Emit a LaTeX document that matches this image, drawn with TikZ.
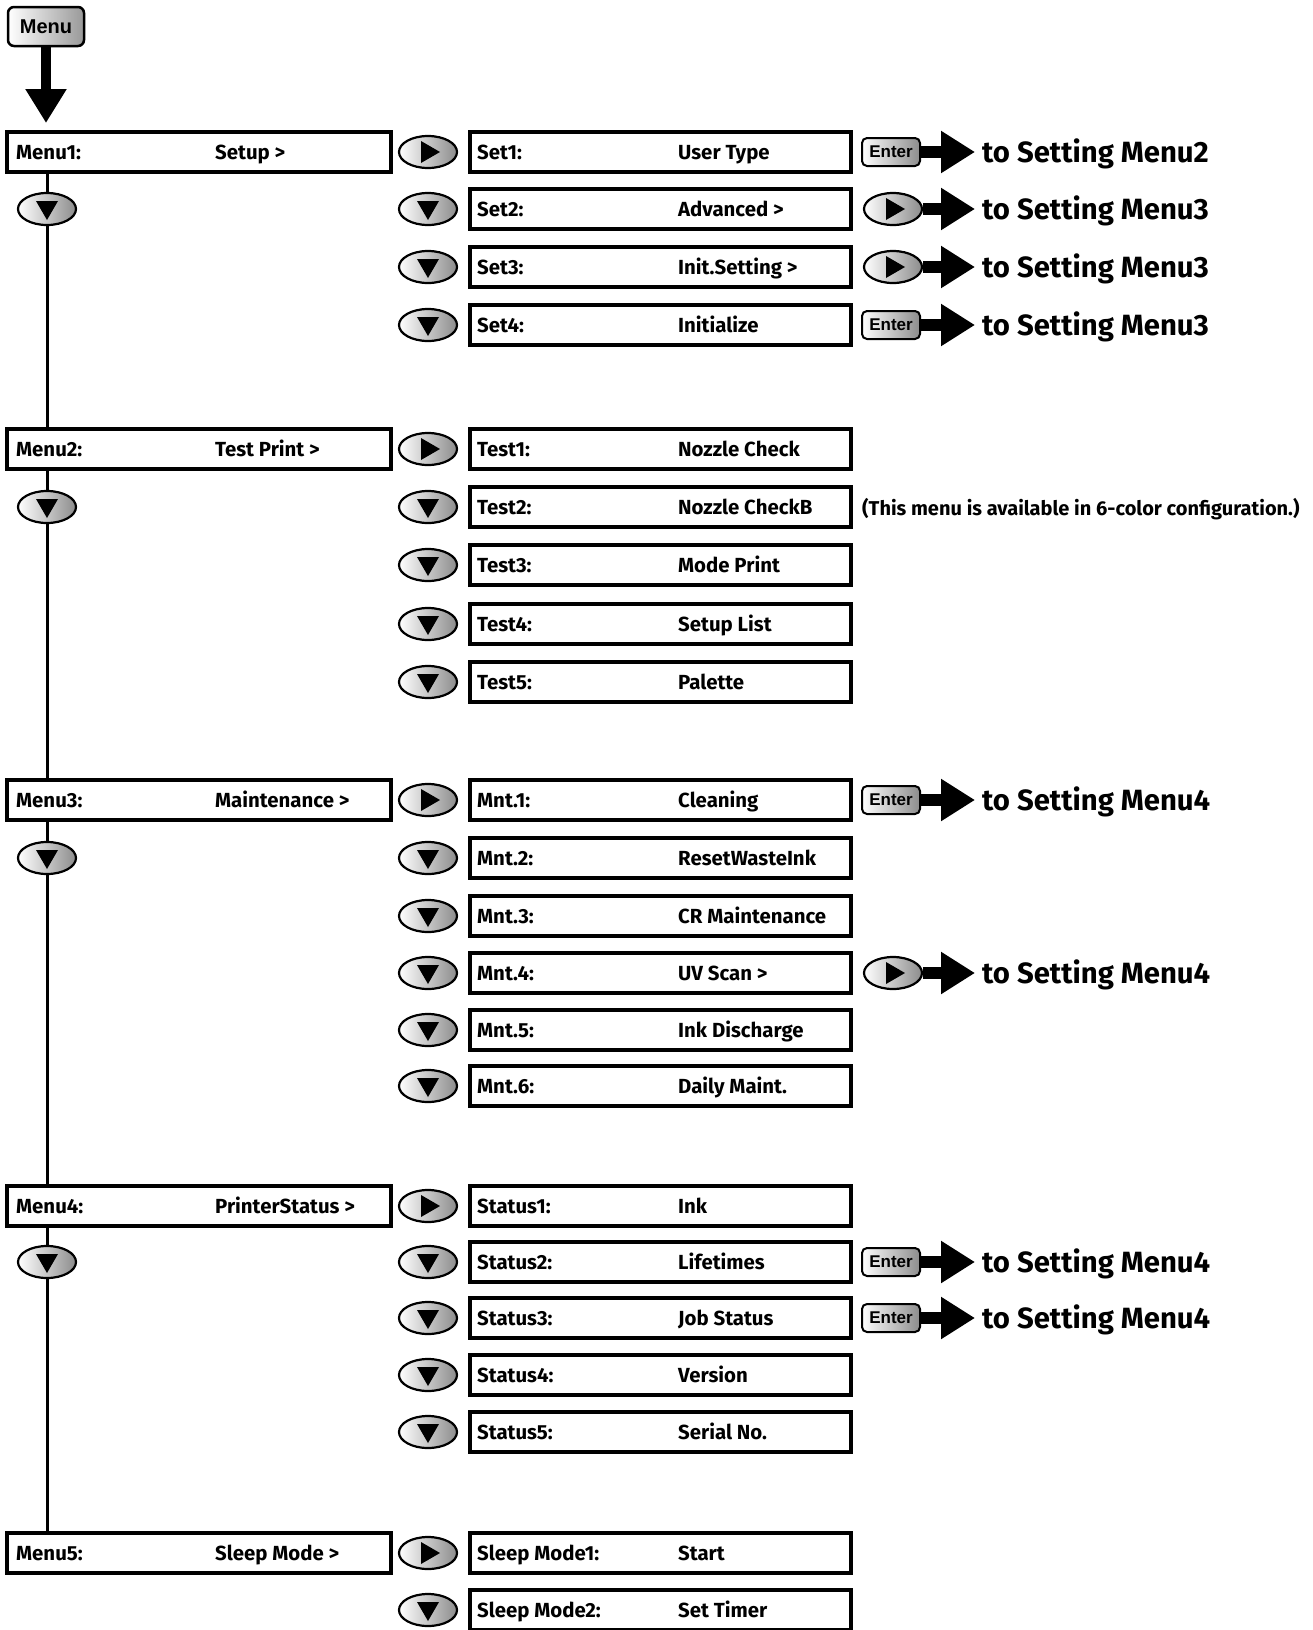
\documentclass[tikz,border=0pt]{standalone}
\usepackage{fontspec}
\setmainfont{Fira Sans}
\newfontfamily\enterfont{Liberation Sans}
\usetikzlibrary{arrows.meta,shapes.geometric}

\tikzset{
  mbox/.style={draw=black, line width=4pt, minimum width=384pt, minimum height=40pt, inner sep=0pt, fill=white},
  sbox/.style={draw=black, line width=4pt, minimum width=381pt, minimum height=40pt, inner sep=0pt, fill=white},
  txt/.style={anchor=base west, inner sep=0pt, font=\fontsize{20.4}{20.4}\selectfont\bfseries},
  bigtxt/.style={anchor=base west, inner sep=0pt, font=\fontsize{29.3}{29.3}\selectfont\bfseries},
  notetxt/.style={anchor=base west, inner sep=0pt, font=\fontsize{20}{20}\selectfont\bfseries},
  btn/.style={ellipse, draw=black, line width=2.2pt, minimum width=58pt, minimum height=32pt, inner sep=0pt, left color=white, right color=black!45},
  enterbtn/.style={rectangle, rounded corners=5pt, draw=black, line width=2pt, minimum width=58pt, minimum height=28pt, inner sep=0pt, left color=white, right color=black!45, font=\fontsize{17}{17}\selectfont\enterfont\bfseries},
  menubtn/.style={rectangle, rounded corners=6pt, draw=black, line width=2.5pt, minimum width=76pt, minimum height=39pt, inner sep=0pt, left color=white, right color=black!40, font=\fontsize{20}{20}\selectfont\enterfont\bfseries},
  fatarrow/.style={line width=12pt, -{Triangle[length=34pt,width=40pt]}, shorten >=7pt},
  downarrow/.style={line width=10pt, -{Triangle[length=34pt,width=39pt]}, shorten >=7pt},
  vline/.style={line width=3pt},
}

\newcommand\rightbtn[3]{%
  \node[btn] (#1) at (#2,#3) {};
  \fill ([shift={(-7,-11)}]#1.center) -- ([shift={(-7,11)}]#1.center) -- ([shift={(12,0)}]#1.center) -- cycle;}
\newcommand\downbtn[3]{%
  \node[btn] (#1) at (#2,#3) {};
  \fill ([shift={(-11,-8)}]#1.center) -- ([shift={(11,-8)}]#1.center) -- ([shift={(0,11)}]#1.center) -- cycle;}
\newcommand\mrow[4]{%
  \node[mbox] (#1) at (199,#2) {};
  \node[txt] (#1l) at (16,#2+7.5) {#3};
  \node[txt] (#1v) at (215,#2+7.5) {#4};}
\newcommand\srow[4]{%
  \node[sbox] (#1) at (660.5,#2) {};
  \node[txt] (#1l) at (477,#2+7.5) {#3};
  \node[txt] (#1v) at (678,#2+7.5) {#4};}
\newcommand\enterto[3]{%
  \node[enterbtn] (#1) at (891,#2) {Enter};
  \node[bigtxt] (#1t) at (982,#2+10) {#3};
  \draw[fatarrow] (#1.east) -- (#1.east -| #1t.west);}
\newcommand\rightto[3]{%
  \rightbtn{#1}{893}{#2}
  \node[bigtxt] (#1t) at (982,#2+10) {#3};
  \draw[fatarrow] (#1.east) -- (#1.east -| #1t.west);}

\begin{document}
\begin{tikzpicture}[x=1pt,y=-1pt]
\useasboundingbox (0,0) rectangle (1312,1630);

% top Menu button
\node[menubtn] (menu) at (46,26.5) {Menu};

% Menu 1
\mrow{ma}{152}{Menu1:}{Setup >}
\draw[downarrow] (menu.south) -- (menu.south |- ma.north);
\rightbtn{ra1}{428}{152}
\srow{sa1}{152}{Set1:}{User Type}
\enterto{ea1}{152}{to Setting Menu2}
\downbtn{ra2}{428}{209}
\srow{sa2}{209}{Set2:}{Advanced >}
\rightto{ga2}{209}{to Setting Menu3}
\downbtn{ra3}{428}{267}
\srow{sa3}{267}{Set3:}{Init.Setting >}
\rightto{ga3}{267}{to Setting Menu3}
\downbtn{ra4}{428}{325}
\srow{sa4}{325}{Set4:}{Initialize}
\enterto{ea4}{325}{to Setting Menu3}

% Menu 2
\mrow{mb}{449}{Menu2:}{Test Print >}
\rightbtn{rb1}{428}{449}
\srow{sb1}{449}{Test1:}{Nozzle Check}
\downbtn{rb2}{428}{507}
\srow{sb2}{507}{Test2:}{Nozzle CheckB}
\node[notetxt] (note) at (862,515) {(This menu is available in 6-color configuration.)};
\downbtn{rb3}{428}{565}
\srow{sb3}{565}{Test3:}{Mode Print}
\downbtn{rb4}{428}{624}
\srow{sb4}{624}{Test4:}{Setup List}
\downbtn{rb5}{428}{682}
\srow{sb5}{682}{Test5:}{Palette}

% Menu 3
\mrow{mc}{800}{Menu3:}{Maintenance >}
\rightbtn{rc1}{428}{800}
\srow{sc1}{800}{Mnt.1:}{Cleaning}
\enterto{ec1}{800}{to Setting Menu4}
\downbtn{rc2}{428}{858}
\srow{sc2}{858}{Mnt.2:}{ResetWasteInk}
\downbtn{rc3}{428}{916}
\srow{sc3}{916}{Mnt.3:}{CR Maintenance}
\downbtn{rc4}{428}{973}
\srow{sc4}{973}{Mnt.4:}{UV Scan >}
\rightto{gc4}{973}{to Setting Menu4}
\downbtn{rc5}{428}{1030}
\srow{sc5}{1030}{Mnt.5:}{Ink Discharge}
\downbtn{rc6}{428}{1086}
\srow{sc6}{1086}{Mnt.6:}{Daily Maint.}

% Menu 4
\mrow{md}{1206}{Menu4:}{PrinterStatus >}
\rightbtn{rd1}{428}{1206}
\srow{sd1}{1206}{Status1:}{Ink}
\downbtn{rd2}{428}{1262}
\srow{sd2}{1262}{Status2:}{Lifetimes}
\enterto{ed2}{1262}{to Setting Menu4}
\downbtn{rd3}{428}{1318}
\srow{sd3}{1318}{Status3:}{Job Status}
\enterto{ed3}{1318}{to Setting Menu4}
\downbtn{rd4}{428}{1375}
\srow{sd4}{1375}{Status4:}{Version}
\downbtn{rd5}{428}{1432}
\srow{sd5}{1432}{Status5:}{Serial No.}

% Menu 5
\mrow{me}{1553}{Menu5:}{Sleep Mode >}
\rightbtn{re1}{428}{1553}
\srow{se1}{1553}{Sleep Mode1:}{Start}
\downbtn{re2}{428}{1610}
\srow{se2}{1610}{Sleep Mode2:}{Set Timer}

% left spine with down buttons
\downbtn{la}{47}{209}
\downbtn{lb}{47}{507}
\downbtn{lc}{47}{858}
\downbtn{ld}{47}{1262}
\draw[vline] (la |- ma.south) -- (la.north);
\draw[vline] (la.south) -- (la |- mb.north);
\draw[vline] (lb |- mb.south) -- (lb.north);
\draw[vline] (lb.south) -- (lb |- mc.north);
\draw[vline] (lc |- mc.south) -- (lc.north);
\draw[vline] (lc.south) -- (lc |- md.north);
\draw[vline] (ld |- md.south) -- (ld.north);
\draw[vline] (ld.south) -- (ld |- me.north);
\end{tikzpicture}
\end{document}
